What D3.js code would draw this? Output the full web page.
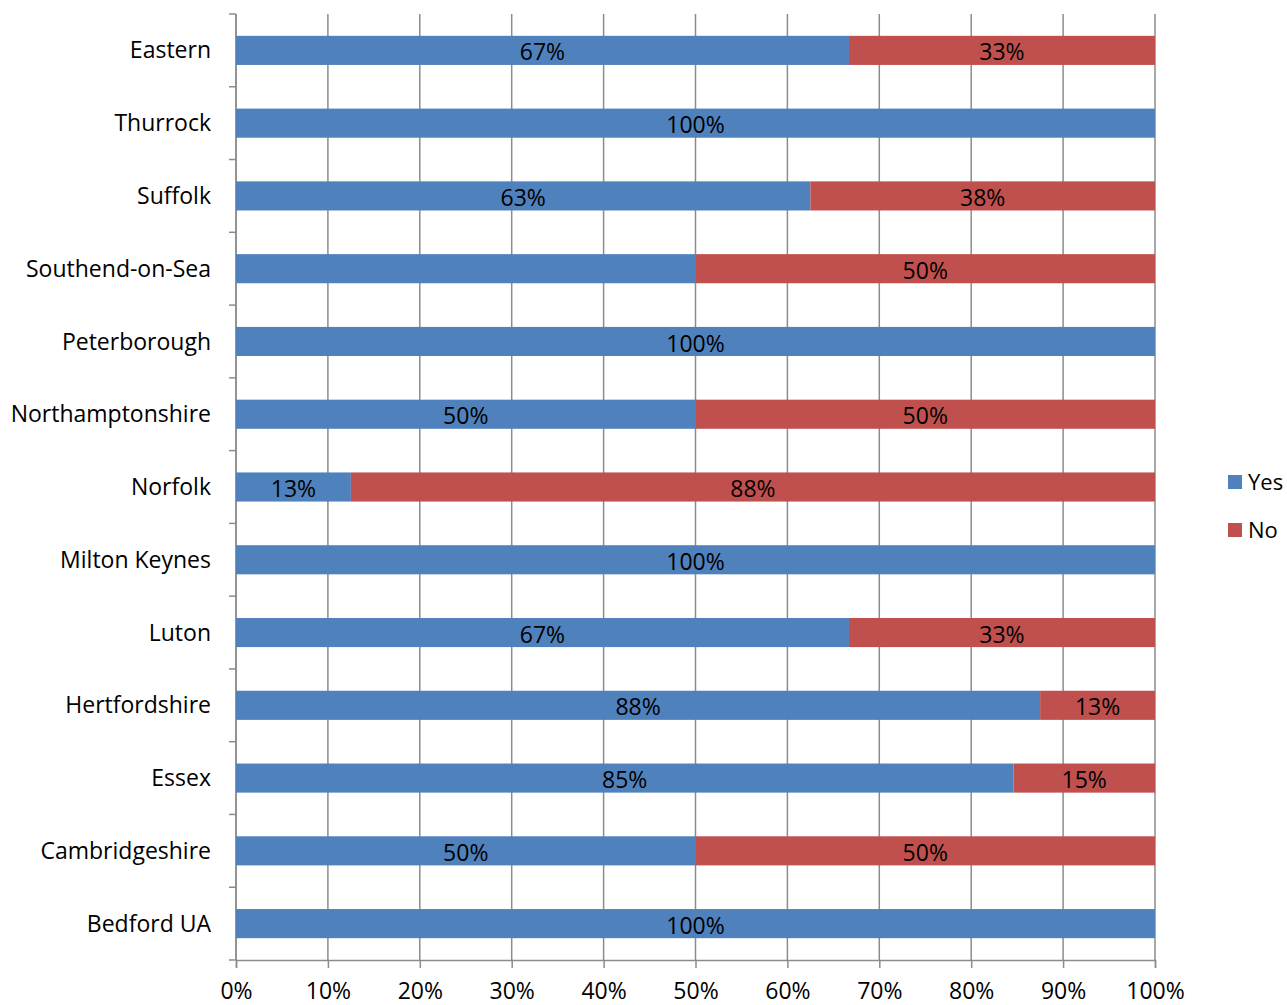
<!DOCTYPE html>
<html>
<head>
<meta charset="utf-8">
<script src="https://cdn.jsdelivr.net/npm/d3@7"></script>
<style>
  body { margin: 0; background: #fff; }
  text { font-family: "Open Sans", "Noto Sans", sans-serif; }
</style>
</head>
<body>
<svg id="chart" width="1287" height="1005"></svg>
<script>
//categories top to bottom
const regions = ["Eastern", "Thurrock", "Suffolk", "Southend-on-Sea", "Peterborough",
  "Northamptonshire", "Norfolk", "Milton Keynes", "Luton", "Hertfordshire",
  "Essex", "Cambridgeshire", "Bedford UA"];
//share of answers
const yesValues = [0.667, 1, 0.625, 0.5, 1, 0.5, 0.125, 1, 0.667, 0.875, 0.846, 0.5, 1];
const noValues  = [0.333, 0, 0.375, 0.5, 0, 0.5, 0.875, 0, 0.333, 0.125, 0.154, 0.5, 0];
//labels as printed on the bars (null = no label shown)
const yesLabels = ["67%", "100%", "63%", null, "100%", "50%", "13%", "100%", "67%", "88%", "85%", "50%", "100%"];
const noLabels  = ["33%", null, "38%", "50%", null, "50%", "88%", null, "33%", "13%", "15%", "50%", null];
const xTicks = [0, 0.1, 0.2, 0.3, 0.4, 0.5, 0.6, 0.7, 0.8, 0.9, 1];
const seriesNames = ["Yes", "No"];
const colors = ["#4F81BD", "#C0504D"];

const margin = { top: 14, left: 236, right: 132, bottom: 45 };
const width = 1287 - margin.left - margin.right;
const height = 1005 - margin.top - margin.bottom;

const svg = d3.select("#chart")
  .append("g")
  .attr("transform", `translate(${margin.left},${margin.top})`);

const x = d3.scaleLinear().domain([0, 1]).range([0, width]);
const y = d3.scaleBand().domain(regions).range([0, height]).paddingInner(0.6).paddingOuter(0.3);
const band = d3.scaleBand().domain(regions).range([0, height]);

//vertical gridlines
svg.selectAll(".grid")
  .data(xTicks)
  .join("line")
  .attr("x1", d => x(d)).attr("x2", d => x(d))
  .attr("y1", 0).attr("y2", height)
  .attr("stroke", "#8c8c8c").attr("stroke-width", 1.5);

//bottom axis
const xAxis = svg.append("g")
  .attr("transform", `translate(0,${height})`)
  .call(d3.axisBottom(x).tickValues(xTicks).tickFormat(d3.format(".0%")).tickSize(8).tickPadding(15));
xAxis.select(".domain").attr("stroke", "#8c8c8c").attr("stroke-width", 1.5);
xAxis.selectAll(".tick line").attr("stroke", "#8c8c8c").attr("stroke-width", 1.5);
xAxis.selectAll("text").attr("font-size", 23).attr("fill", "#000").attr("font-family", "Open Sans");

//left axis with ticks between categories
svg.append("line")
  .attr("x1", 0).attr("x2", 0).attr("y1", 0).attr("y2", height)
  .attr("stroke", "#8c8c8c").attr("stroke-width", 1.5);
svg.selectAll(".ytick")
  .data(regions.concat(["end"]))
  .join("line")
  .attr("x1", -7).attr("x2", 0)
  .attr("y1", (d, i) => i * band.step()).attr("y2", (d, i) => i * band.step())
  .attr("stroke", "#8c8c8c").attr("stroke-width", 1.5);
svg.selectAll(".ylabel")
  .data(regions)
  .join("text")
  .attr("x", -25)
  .attr("y", d => y(d) + y.bandwidth() / 2)
  .attr("dy", "0.35em")
  .attr("text-anchor", "end")
  .attr("font-size", 23)
  .text(d => d);

//stacked bars
const rows = regions.map((r, i) => ({ region: r, Yes: yesValues[i], No: noValues[i], i }));
const stacked = d3.stack().keys(seriesNames)(rows);
const labelSets = [yesLabels, noLabels];

stacked.forEach((layer, k) => {
  const g = svg.append("g");
  g.selectAll("rect")
    .data(layer)
    .join("rect")
    .attr("x", d => x(d[0]))
    .attr("y", d => y(d.data.region))
    .attr("width", d => x(d[1]) - x(d[0]))
    .attr("height", y.bandwidth())
    .attr("fill", colors[k]);
  g.selectAll("text")
    .data(layer.filter(d => labelSets[k][d.data.i]))
    .join("text")
    .attr("x", d => (x(d[0]) + x(d[1])) / 2)
    .attr("y", d => y(d.data.region) + y.bandwidth() / 2 + 2)
    .attr("dy", "0.35em")
    .attr("text-anchor", "middle")
    .attr("font-size", 23)
    .text(d => labelSets[k][d.data.i]);
});

//legend
const legend = d3.select("#chart").append("g").attr("transform", "translate(1228,475)");
seriesNames.forEach((s, k) => {
  legend.append("rect").attr("x", 0).attr("y", k * 48).attr("width", 14).attr("height", 14).attr("fill", colors[k]);
  legend.append("text").attr("x", 20).attr("y", k * 48 + 7).attr("dy", "0.35em")
    .attr("font-size", 22).text(s);
});
</script>
</body>
</html>
